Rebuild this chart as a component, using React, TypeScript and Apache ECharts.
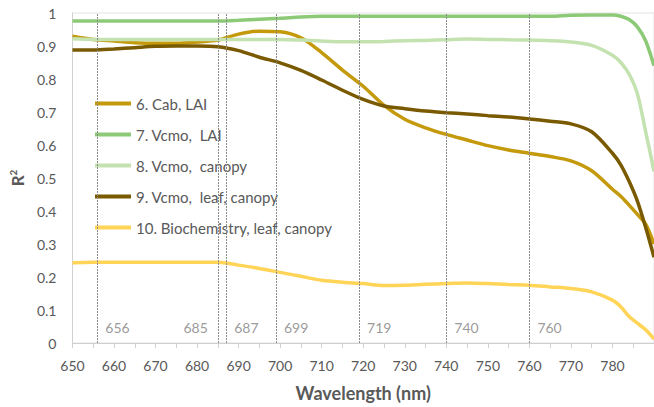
import React, { useEffect, useRef } from "react";
import * as echarts from "echarts";

const wavelengths = [650, 655, 660, 665, 670, 675, 680, 685, 690, 695, 700, 705, 710, 715, 720, 725, 730, 735, 740, 745, 750, 755, 760, 765, 770, 775, 780, 782, 784, 786, 788, 790];

const cabLai = [0.93, 0.92, 0.915, 0.91, 0.908, 0.908, 0.912, 0.918, 0.936, 0.945, 0.943, 0.925, 0.88, 0.827, 0.778, 0.72, 0.678, 0.652, 0.632, 0.615, 0.598, 0.585, 0.575, 0.565, 0.552, 0.522, 0.466, 0.445, 0.418, 0.39, 0.36, 0.3];
const vcmoLai = [0.976, 0.976, 0.976, 0.976, 0.976, 0.976, 0.976, 0.976, 0.978, 0.981, 0.984, 0.988, 0.99, 0.99, 0.99, 0.99, 0.99, 0.99, 0.99, 0.99, 0.99, 0.99, 0.99, 0.99, 0.993, 0.994, 0.994, 0.99, 0.98, 0.958, 0.915, 0.84];
const vcmoCanopy = [0.922, 0.92, 0.92, 0.92, 0.92, 0.92, 0.92, 0.92, 0.92, 0.92, 0.92, 0.918, 0.915, 0.913, 0.913, 0.914, 0.916, 0.917, 0.919, 0.921, 0.92, 0.919, 0.918, 0.916, 0.912, 0.902, 0.872, 0.85, 0.815, 0.755, 0.64, 0.52];
const vcmoLeafCanopy = [0.888, 0.888, 0.891, 0.895, 0.899, 0.9, 0.9, 0.898, 0.886, 0.866, 0.849, 0.826, 0.797, 0.766, 0.738, 0.718, 0.71, 0.703, 0.698, 0.694, 0.689, 0.685, 0.679, 0.672, 0.664, 0.64, 0.575, 0.54, 0.49, 0.43, 0.35, 0.26];
const biochemistry = [0.243, 0.245, 0.245, 0.245, 0.245, 0.245, 0.245, 0.245, 0.236, 0.226, 0.214, 0.202, 0.19, 0.184, 0.18, 0.174, 0.175, 0.178, 0.18, 0.182, 0.18, 0.177, 0.175, 0.17, 0.165, 0.155, 0.13, 0.11, 0.08, 0.06, 0.04, 0.012];

const seriesNames = [
  "6. Cab, LAI",
  "7. Vcmo,  LAI",
  "8. Vcmo,  canopy",
  "9. Vcmo,  leaf, canopy",
  "10. Biochemistry, leaf, canopy",
];
const seriesValues = [cabLai, vcmoLai, vcmoCanopy, vcmoLeafCanopy, biochemistry];
const seriesColors = ["#C49A0C", "#8DCA78", "#C4E2B0", "#7A5A00", "#FFD457"];

const markerWavelengths = [656, 685, 687, 699, 719, 740, 760];
const markerLabelLeft = [685];
const xTicks = { min: 650, max: 790, interval: 10 };
const yTicks = { min: 0, max: 1, interval: 0.1 };

const FONT = "Lato";

export default function App() {
  const ref = useRef<HTMLDivElement>(null);
  useEffect(() => {
    document.body.style.margin = "0";
    if (!ref.current) return;
    const chart = echarts.init(ref.current, null, { renderer: "svg" });
    const lineSeries: any[] = seriesNames.map((name, i) => ({
      name,
      type: "line",
      data: wavelengths.map((w, j) => [w, seriesValues[i][j]]),
      showSymbol: false,
      symbol: "none",
      smooth: 0.3,
      lineStyle: { width: 3.5, color: seriesColors[i] },
      itemStyle: { color: seriesColors[i] },
      z: 3,
    }));
    lineSeries[0].markLine = {
      silent: true,
      symbol: "none",
      label: { show: false },
      lineStyle: { color: "#8a8a8a", width: 1, type: [2, 1] },
      data: markerWavelengths.map((w) => ({ xAxis: w })),
    };
    const labelSeries = {
      name: "markers",
      type: "scatter",
      symbolSize: 0,
      silent: true,
      data: markerWavelengths.map((w) => ({
        value: [w, 0.048],
        label: {
          show: true,
          position: markerLabelLeft.includes(w) ? "left" : "right",
          distance: markerLabelLeft.includes(w) ? 10 : 8,
          formatter: String(w),
          color: "#7f7f7f",
          fontSize: 14,
          fontFamily: FONT,
        },
      })),
    };
    chart.setOption({
      animation: false,
      textStyle: { fontFamily: FONT },
      grid: {
        left: 71,
        top: 13,
        width: 586,
        height: 330,
        show: true,
        borderColor: "#e3e3e3",
        borderWidth: 1,
        backgroundColor: "transparent",
      },
      legend: {
        data: seriesNames,
        orient: "vertical",
        left: 93,
        top: 96,
        padding: 0,
        itemWidth: 36,
        itemHeight: 14,
        itemGap: 16,
        itemStyle: { opacity: 0 },
        lineStyle: { width: 4 },
        textStyle: { fontSize: 15, color: "#595959", fontFamily: FONT },
      },
      xAxis: {
        type: "value",
        min: xTicks.min,
        max: xTicks.max,
        interval: xTicks.interval,
        name: "Wavelength (nm)",
        nameLocation: "middle",
        nameGap: 41,
        nameTextStyle: { fontSize: 18, fontWeight: "bold", color: "#595959", fontFamily: FONT },
        axisLine: { show: true, lineStyle: { color: "#d0d0d0" } },
        axisTick: { show: true, length: 5, lineStyle: { color: "#d0d0d0" } },
        minorTick: { show: true, splitNumber: 2, length: 5, lineStyle: { color: "#d0d0d0" } },
        splitLine: { show: false },
        axisLabel: {
          showMaxLabel: false,
          margin: 15,
          fontSize: 14,
          color: "#595959",
          fontFamily: FONT,
        },
      },
      yAxis: {
        type: "value",
        min: yTicks.min,
        max: yTicks.max,
        interval: yTicks.interval,
        name: "{r|R}{s|2}",
        nameLocation: "middle",
        nameRotate: 90,
        nameGap: 46,
        nameTextStyle: {
          color: "#595959",
          rich: {
            r: { fontSize: 17, fontWeight: "bold", color: "#595959", fontFamily: FONT, verticalAlign: "bottom", lineHeight: 18 },
            s: { fontSize: 10, fontWeight: "bold", color: "#595959", fontFamily: FONT, verticalAlign: "top", lineHeight: 18 },
          },
        },
        axisLine: { show: true, lineStyle: { color: "#d0d0d0" } },
        axisTick: { show: false },
        splitLine: { show: false },
        axisLabel: {
          margin: 16,
          fontSize: 14,
          color: "#595959",
          fontFamily: FONT,
          formatter: (v: number) => String(Math.round(v * 10) / 10),
        },
      },
      series: [...lineSeries, labelSeries],
    });
    return () => chart.dispose();
  }, []);
  return <div ref={ref} style={{ width: 654, height: 407 }} />;
}
